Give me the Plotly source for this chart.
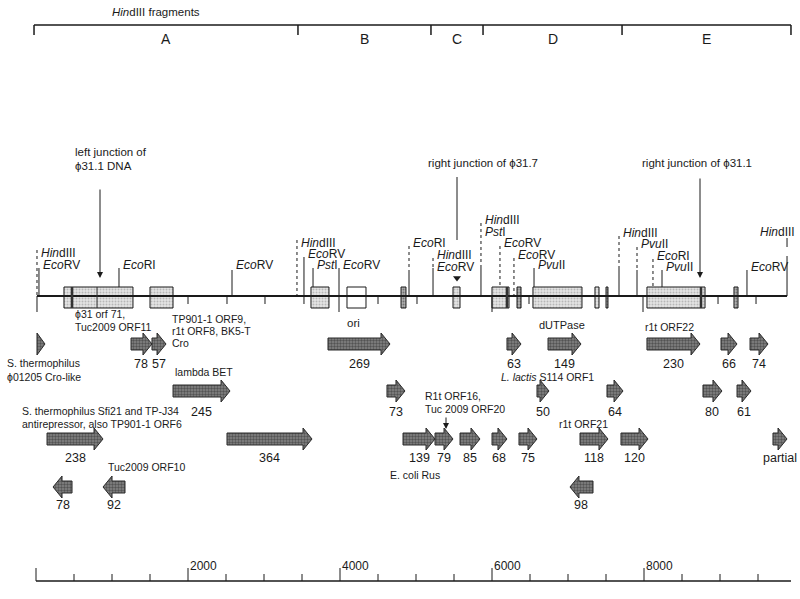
import plotly.graph_objects as go

# ---------------- data (positions in bp) ----------------
fragment_bounds = [-26, 3447, 5197, 5882, 7711, 9934]
fragment_names = ["A", "B", "C", "D", "E"]

genome_start, genome_end = 13, 9882

# map ORF boxes: (start, end, kind)
box_start = [368, 1500, 3618, 4092, 4803, 5487, 6000, 6329, 6539, 7355, 7500, 8039, 9184]
box_end   = [1276, 1803, 3855, 4342, 4868, 5579, 6224, 6382, 7184, 7408, 7526, 8803, 9237]
box_kind  = ["light", "light", "light", "open", "dark", "light", "light", "dark", "light", "light", "dark", "light", "dark"]
box_divs  = [474, 803, 6197, 8750]          # internal division lines in boxes

# restriction sites
site_bp     = [13, 39, 1092, 2579, 3434, 3526, 3645, 3987, 4908, 5224, 5855, 6105, 6289, 6553, 7671, 7908, 8118, 8237, 9355, 9882]
site_labels = [["HindIII"], ["EcoRV"], ["EcoRI"], ["EcoRV"], ["HindIII"], ["EcoRV"], ["PstI"], ["EcoRV"], ["EcoRI"],
               ["HindIII", "EcoRV"], ["HindIII", "PstI"], ["EcoRV"], ["EcoRV"], ["PvuII"], ["HindIII"], ["PvuII"],
               ["EcoRI"], ["PvuII"], ["EcoRV"], ["HindIII"]]

# small ticks below the map line
tick_short_bp = [2000, 2513, 3013, 4500, 5013, 6487, 8974, 9474]
tick_long_bp  = [13, 6000, 7987]

# ORF arrows: start, end, row, direction, size label
orf_start = [13, 1250, 1526, 3842, 6197, 6737, 8039, 9013, 9395,
             1803, 4618, 6592, 7513, 8776, 9224,
             145, 2513, 4829, 5250, 5579, 6000, 6355, 7158, 7697, 9697,
             224, 882, 7026]
orf_end   = [118, 1526, 1711, 4658, 6382, 7171, 8737, 9224, 9632,
             2553, 4855, 6750, 7724, 9026, 9408,
             882, 3632, 5250, 5487, 5842, 6197, 6592, 7526, 8053, 9882,
             474, 1171, 7329]
orf_row   = [1]*9 + [2]*6 + [3]*10 + [4]*3
orf_dir   = [1]*25 + [-1]*3
orf_label = ["", "78", "57", "269", "63", "149", "230", "66", "74",
             "245", "73", "50", "64", "80", "61",
             "238", "364", "139", "79", "85", "68", "75", "118", "120", "partial",
             "78", "92", "98"]

scale_ticks = list(range(0, 10000, 500))
scale_labels = [2000, 4000, 6000, 8000]
scale_end = 9934

# ---------------- layout helpers ----------------
PX = 0.076                      # px per bp
def bpw(px):                    # pixel width -> bp
    return px / PX
def px2bp(px):
    return (px - 36) / PX

MAP_Y = 296
BOX_T, BOX_B = 287, 308
ROW_Y = {1: 344, 2: 391, 3: 439, 4: 487}
LAB_Y = {1: 364, 2: 412, 3: 458, 4: 505}

FONT = "Liberation Sans, Arial, sans-serif"
INK = "#1a1a1a"

fig = go.Figure()
shapes = []
annots = []

def line(x0, y0, x1, y1, w=1, dash="solid", color=INK):
    shapes.append(dict(type="line", xref="x", yref="y", x0=x0, y0=y0, x1=x1, y1=y1,
                       line=dict(color=color, width=w, dash=dash)))

def text(x, y, s, size=12, anchor="left", color=INK):
    annots.append(dict(x=x, y=y, xref="x", yref="y", text=s, showarrow=False, captureevents=False,
                       xanchor=anchor, yanchor="middle", font=dict(family=FONT, size=size, color=color)))

def enz(name):
    for p in ["Hin", "Eco", "Pst", "Pvu"]:
        if name.startswith(p):
            return "<i>%s</i>%s" % (p, name[len(p):])
    return name

# ---- HindIII fragment bracket ----
text(px2bp(110), 12, "<i>Hin</i>dIII fragments", size=11.5)
line(fragment_bounds[0], 25, fragment_bounds[-1], 25, w=1.5)
for b in fragment_bounds:
    line(b, 25, b, 35, w=1.5)
for i, n in enumerate(fragment_names):
    text((fragment_bounds[i] + fragment_bounds[i + 1]) / 2, 39, n, size=14, anchor="center")

# ---- main map line ----
line(genome_start, MAP_Y, genome_end, MAP_Y, w=2)

# ---- restriction sites ----
site_layout = {  # label y (first label), line top, end of dotted part, bottom
    13: (253, 250, 296, 296), 39: (265, 268, None, 296), 1092: (265, 268, None, BOX_T),
    2579: (265, 270, None, 296), 3434: (243, 240, 296, 296), 3526: (254, 257, None, 304),
    3645: (265, 268, None, BOX_T), 3987: (265, 268, None, 312), 4908: (243, 246, 270, 296),
    5224: (255, 258, 268, 296), 5855: (220, 223, 268, 296), 6105: (243, 246, BOX_T, BOX_T),
    6289: (255, 258, 296, 296), 6553: (265, 268, None, BOX_T), 7671: (233, 236, 267, 296),
    7908: (244, 247, 270, 296), 8118: (256, 259, BOX_T, BOX_T), 8237: (267, 270, None, BOX_T),
    9355: (267, 270, None, 296), 9882: (232, 238, 263, 296),
}
for bp, labs in zip(site_bp, site_labels):
    ly, top, dot_end, bot = site_layout[bp]
    if dot_end is None:
        line(bp, top, bp, bot, w=1)
    else:
        line(bp, top, bp, dot_end, w=1, dash="dash" if bp == 9882 else "dot")
        if dot_end < bot:
            line(bp, dot_end, bp, bot, w=1)
    for k, lab in enumerate(labs):
        if bp == 9882:
            text(bp + bpw(10), ly + 12 * k, enz(lab), anchor="right")
        else:
            text(bp + bpw(2), ly + 12 * k, enz(lab))

for t in tick_short_bp:
    line(t, MAP_Y, t, 304, w=1)
for t in tick_long_bp:
    line(t, MAP_Y, t, 312, w=1)

# ---- map boxes ----
def rect_trace(xs0, xs1, bg, fg, line_w=1):
    X, Y = [], []
    for a, b in zip(xs0, xs1):
        X += [a, b, b, a, a, None]
        Y += [BOX_T, BOX_T, BOX_B, BOX_B, BOX_T, None]
    return go.Scatter(x=X, y=Y, mode="lines", fill="toself", line=dict(color=INK, width=line_w),
                      fillcolor=bg, fillpattern=dict(shape=".", bgcolor=bg, fgcolor=fg, size=3, solidity=0.35),
                      hoverinfo="skip", showlegend=False)

for kind, bg, fg in [("light", "#e4e4e4", "#8a8a8a"), ("dark", "#b0b0b0", "#333333")]:
    s0 = [a for a, k in zip(box_start, box_kind) if k == kind]
    s1 = [b for b, k in zip(box_end, box_kind) if k == kind]
    fig.add_trace(rect_trace(s0, s1, bg, fg))
s0 = [a for a, k in zip(box_start, box_kind) if k == "open"]
s1 = [b for b, k in zip(box_end, box_kind) if k == "open"]
X, Y = [], []
for a, b in zip(s0, s1):
    X += [a, b, b, a, a, None]; Y += [BOX_T, BOX_T, BOX_B, BOX_B, BOX_T, None]
fig.add_trace(go.Scatter(x=X, y=Y, mode="lines", fill="toself", fillcolor="white",
                         line=dict(color=INK, width=1), hoverinfo="skip", showlegend=False))
for i, d in enumerate(box_divs):
    line(d, BOX_T, d, BOX_B, w=2.5 if i != 1 else 1, color="#333")

# ---- ORF arrows ----
HEAD = bpw(9)
BODY_H, HEAD_H = 6, 11
AX, AY = [], []
for s, e, r, d in zip(orf_start, orf_end, orf_row, orf_dir):
    c = ROW_Y[r]
    L = e - s
    h = min(HEAD, L)
    if d > 0:
        xs = [s, e - h, e - h, e, e - h, e - h, s, s]
    else:
        xs = [e, s + h, s + h, s, s + h, s + h, e, e]
    ys = [c - BODY_H, c - BODY_H, c - HEAD_H, c, c + HEAD_H, c + BODY_H, c + BODY_H, c - BODY_H]
    AX += xs + [None]; AY += ys + [None]
fig.add_trace(go.Scatter(x=AX, y=AY, mode="lines", fill="toself", fillcolor="#6e6e6e",
                         fillpattern=dict(shape=".", bgcolor="#858585", fgcolor="#222222", size=3, solidity=0.5),
                         line=dict(color="#2a2a2a", width=1), hoverinfo="skip", showlegend=False))
for s, e, r, lab in zip(orf_start, orf_end, orf_row, orf_label):
    if lab == "partial":
        text(px2bp(799), LAB_Y[r], lab, size=12.5, anchor="right")
    elif lab:
        text((s + e) / 2, LAB_Y[r], lab, size=12.5, anchor="center")

# ---- gene descriptions ----
desc = [
    (73, 314, "ϕ31 orf 71,"), (73, 327, "Tuc2009 ORF11"),
    (170, 319, "TP901-1 ORF9,"), (170, 331, "r1t ORF8, BK5-T"), (170, 343, "Cro"),
    (5, 363, "S. thermophilus"), (5, 377, "ϕ01205 Cro-like"),
    (173, 372, "lambda BET"),
    (20, 411, "S. thermophilus Sfi21 and TP-J34"), (20, 424, "antirepressor, also TP901-1 ORF6"),
    (106, 467, "Tuc2009 ORF10"),
    (388, 475, "E. coli Rus"),
    (643, 327, "r1t ORF22"),
    (499, 377, "<i>L. lactis</i> S114 ORF1"),
    (423, 396, "R1t ORF16,"), (423, 409, "Tuc 2009 ORF20"),
    (557, 424, "r1t ORF21"),
]
for px, y, s in desc:
    text(px2bp(px), y, s, size=10.5)
text(px2bp(353), 323, "ori", size=11.5, anchor="center")
text(px2bp(562), 325, "dUTPase", size=11, anchor="center")

# junction labels
text(px2bp(73), 152, "left junction of", size=11.5)
text(px2bp(73), 166, "ϕ31.1 DNA", size=11.5)
text(px2bp(483), 163, "right junction of ϕ31.7", size=11.5, anchor="center")
text(px2bp(697), 163, "right junction of ϕ31.1", size=11.5, anchor="center")

def arrow(xbp, y0, y1):
    annots.append(dict(x=xbp, y=y1, ax=xbp, ay=y0, xref="x", yref="y", axref="x", ayref="y",
                       showarrow=True, arrowhead=2, arrowsize=1.2, arrowwidth=1, arrowcolor=INK, text=""))

arrow(px2bp(100), 188, 278)
arrow(px2bp(700), 177, 278)
arrow(px2bp(446), 416, 429)
line(px2bp(457), 177, px2bp(457), 240, w=1)
fig.add_trace(go.Scatter(x=[px2bp(457)], y=[278], mode="markers",
                         marker=dict(symbol="triangle-down", size=7, color=INK),
                         hoverinfo="skip", showlegend=False))

# ---- bottom scale ----
SC_Y = 581
line(0, SC_Y, scale_end, SC_Y, w=1.5)
for t in scale_ticks:
    major = (t % 2000 == 0)
    line(t, SC_Y, t, SC_Y - (13 if major else 7), w=1)
for t in scale_labels:
    text(t, SC_Y - 15, str(t), size=12, anchor="left")

fig.update_layout(
    width=800, height=599, margin=dict(l=0, r=0, t=0, b=0),
    paper_bgcolor="white", plot_bgcolor="white", hovermode=False, dragmode=False,
    xaxis=dict(range=[px2bp(0), px2bp(800)], visible=False, fixedrange=True),
    yaxis=dict(range=[599, 0], visible=False, fixedrange=True),
    shapes=shapes, annotations=annots, showlegend=False,
)
fig.write_html("out.html", config={"displayModeBar": False, "staticPlot": True},
               post_script="document.body.style.margin='0';document.body.style.overflow='hidden';")
